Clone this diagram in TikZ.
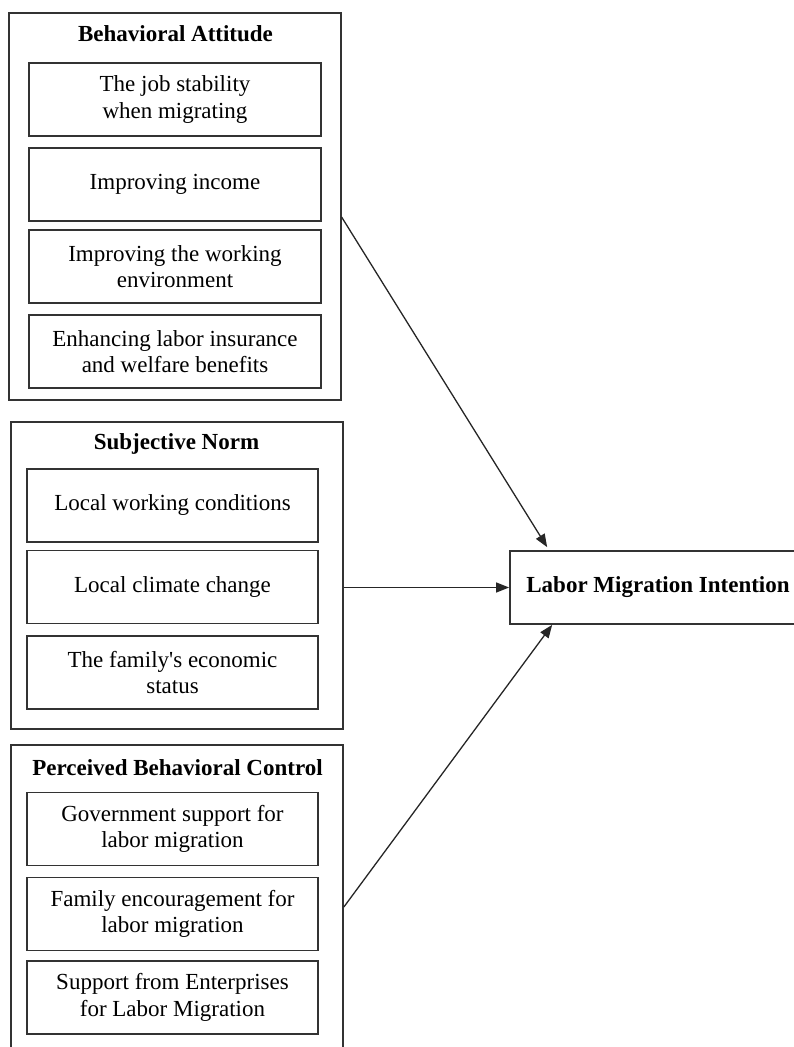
\documentclass[tikz,border=0pt]{standalone}
\usepackage{fontspec}
\setmainfont{Liberation Serif}
\usetikzlibrary{arrows.meta,positioning,calc}

\begin{document}
\begin{tikzpicture}[x=0.5pt,y=-0.5pt,
  font=\fontsize{11.5}{13.3}\selectfont,
  group/.style={draw=black!80,line width=0.85pt,inner sep=0pt},
  item/.style={draw=black!80,line width=0.85pt,align=center,minimum height=36.5pt,inner sep=0pt},
  head/.style={font=\fontsize{11.5}{13.3}\selectfont\bfseries},
  arr/.style={draw=black!85,line width=0.65pt,-{Triangle[length=6.5pt,width=5pt]}}]
\useasboundingbox (0,0) rectangle (793,1047);

% Draw the three groups
\node[group,minimum width=165.75pt,minimum height=193.5pt] (BA) at (175,206.5) {};
\node[group,minimum width=166pt,minimum height=153.5pt] (SN) at (177,575.5) {};
\node[group,minimum width=166pt,minimum height=162pt] (PBC) at (177,907) {};

\node[head] (BAt) at (175.5,34) {Behavioral Attitude};
\node[head] (SNt) at (176.5,444) {Subjective Norm};
\node[head] (PBCt) at (177.5,768) {Perceived Behavioral Control};

% Items of each group
\foreach \n/\y/\t in {BA1/99.5/{The job stability\\when migrating},
                      BA2/184.5/{Improving income},
                      BA3/266.5/{Improving the working\\environment},
                      BA4/351.5/{Enhancing labor insurance\\and welfare benefits}} {
    \node[item,minimum width=146pt] (\n) at (175,\y) {\t};
}
\foreach \n/\y/\t in {SN1/505.5/{Local working conditions},
                      SN2/587/{Local climate change},
                      SN3/672.5/{The family\textquotesingle s economic\\status},
                      PBC1/829/{Government support for\\labor migration},
                      PBC2/914/{Family encouragement for\\labor migration},
                      PBC3/997.5/{Support from Enterprises\\for Labor Migration}} {
    \node[item,minimum width=145.5pt] (\n) at (172.5,\y) {\t};
}

% Outcome
\node[item,head,minimum width=148pt] (LMI) at (658,587.5) {Labor Migration Intention};

\draw[arr] ($(BA.east)+(0,10.5)$) -- ($(LMI.north west)+(38,-3)$);
\draw[arr] (SN.east |- LMI.west) -- (LMI.west);
\draw[arr] (PBC.east) -- ($(LMI.south west)+(43,0)$);
\end{tikzpicture}
\end{document}
